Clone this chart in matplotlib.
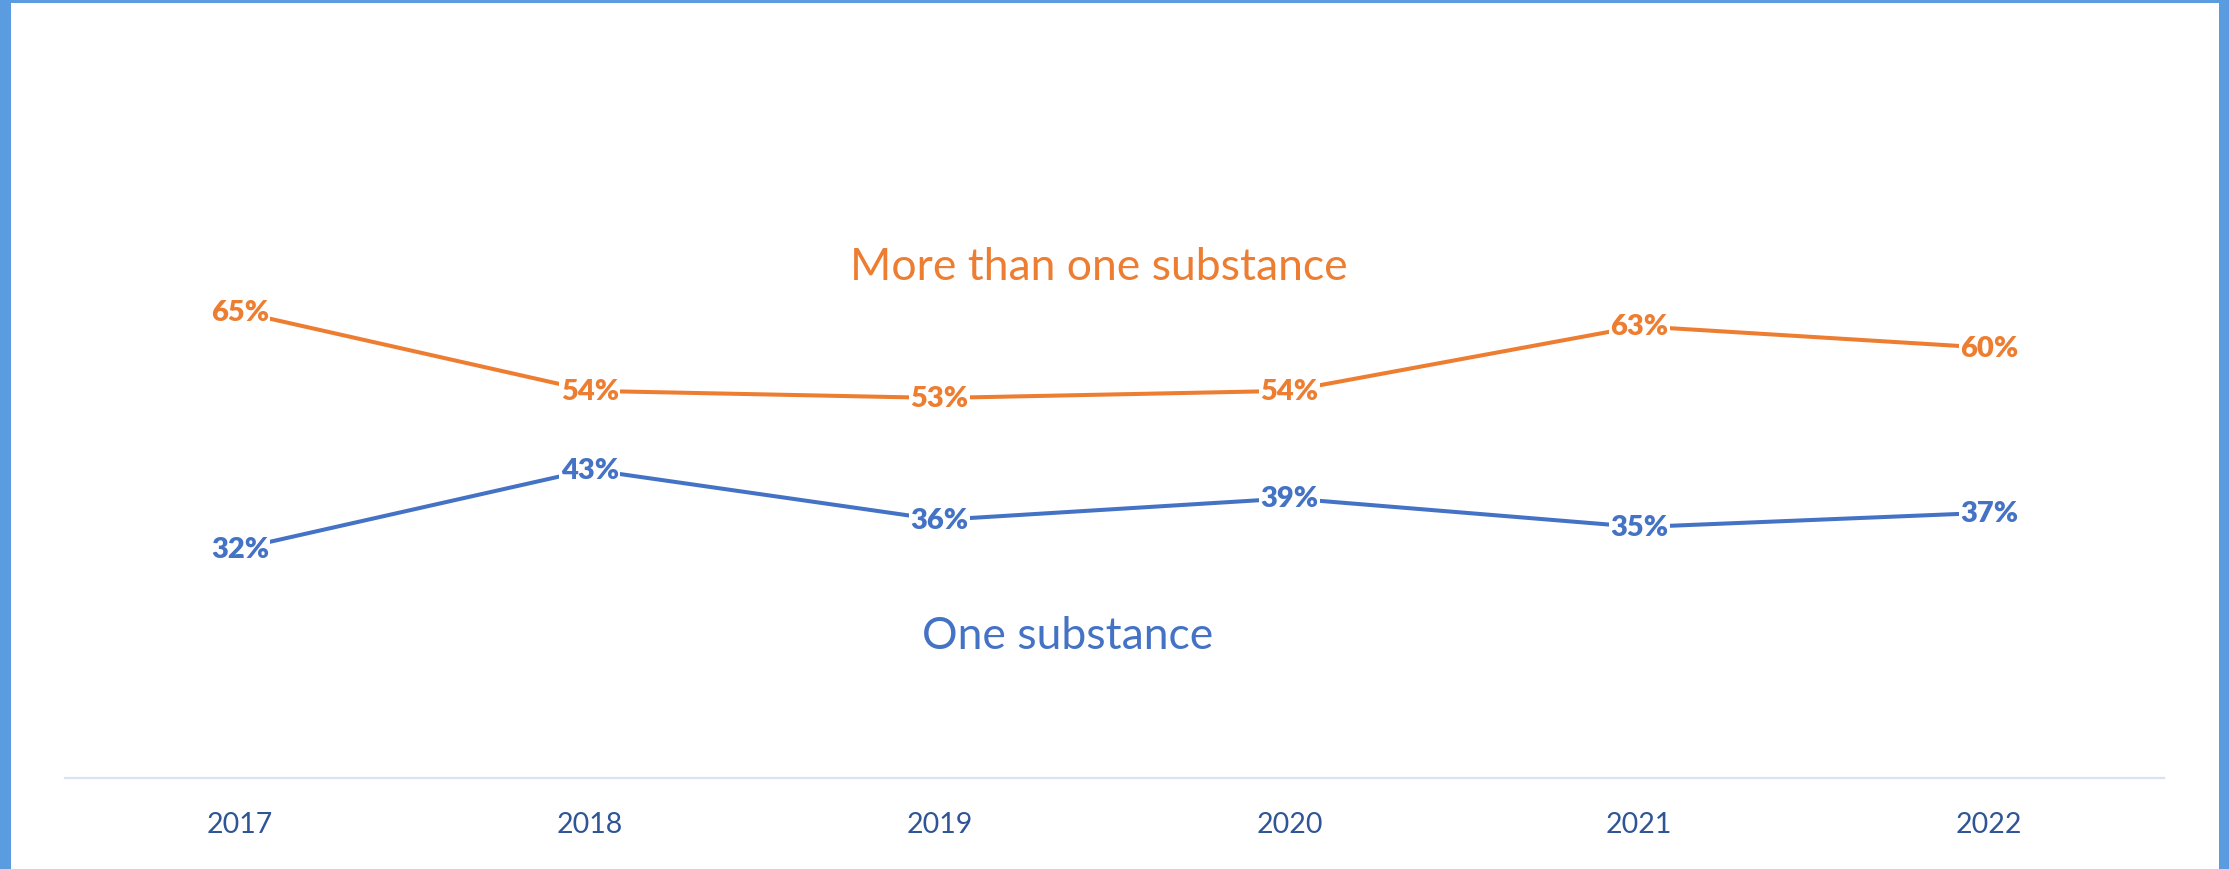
import matplotlib
matplotlib.use("Agg")
import matplotlib.pyplot as plt
from matplotlib.patches import Rectangle

years = ["2017", "2018", "2019", "2020", "2021", "2022"]
more_than_one = [65, 54, 53, 54, 63, 60]
one_substance = [32, 43, 36, 39, 35, 37]
series_names = ["More than one substance", "One substance"]

ORANGE = "#ED7D31"
BLUE = "#4472C4"
TICK = "#2F5597"
BORDER = "#5B9BE0"

W, H = 2229, 870
fig = plt.figure(figsize=(W / 100, H / 100), dpi=100)
fig.patch.set_facecolor("white")

left, right = 65 / W, 2164 / W
bottom, top = (H - 779) / H, (H - 62) / H
ax = fig.add_axes([left, bottom, right - left, top - bottom])
ax.set_xlim(-0.5, len(years) - 0.5)
ax.set_ylim(0, 100)
ax.patch.set_alpha(0)

x = list(range(len(years)))
for vals, col in [(more_than_one, ORANGE), (one_substance, BLUE)]:
    ax.plot(x, vals, color=col, lw=2.9, solid_capstyle="butt", zorder=2)
    for xi, v in zip(x, vals):
        ax.text(xi, v, f"{v}%", ha="center", va="center", color=col,
                fontsize=21, fontweight="heavy", family="Lato", zorder=3,
                bbox=dict(boxstyle="square,pad=0.05", fc="white", ec="none"))

for s in ["top", "right", "left"]:
    ax.spines[s].set_visible(False)
ax.spines["bottom"].set_color("#D9E2F3")
ax.spines["bottom"].set_linewidth(1.6)
ax.set_yticks([])
ax.set_xticks(x)
ax.set_xticklabels(years, fontsize=20.5, color=TICK, family="Lato")
ax.tick_params(axis="x", length=0, pad=24)

# series labels
fig.text(1099 / W, 1 - 267 / H, series_names[0], color=ORANGE, fontsize=32,
         family="Lato", ha="center", va="center")
fig.text(1068 / W, 1 - 637 / H, series_names[1], color=BLUE, fontsize=32,
         family="Lato", ha="center", va="center")

# frame bars
fig.patches.append(Rectangle((0, 1 - 4 / H), 1, 4 / H, transform=fig.transFigure,
                             fc=BORDER, ec="none", zorder=10))
fig.patches.append(Rectangle((0, 0), 11 / W, 1, transform=fig.transFigure,
                             fc=BORDER, ec="none", zorder=10))
fig.patches.append(Rectangle((1 - 10 / W, 0), 10 / W, 1, transform=fig.transFigure,
                             fc=BORDER, ec="none", zorder=10))

fig.savefig("out.png", dpi=100, facecolor="white")
